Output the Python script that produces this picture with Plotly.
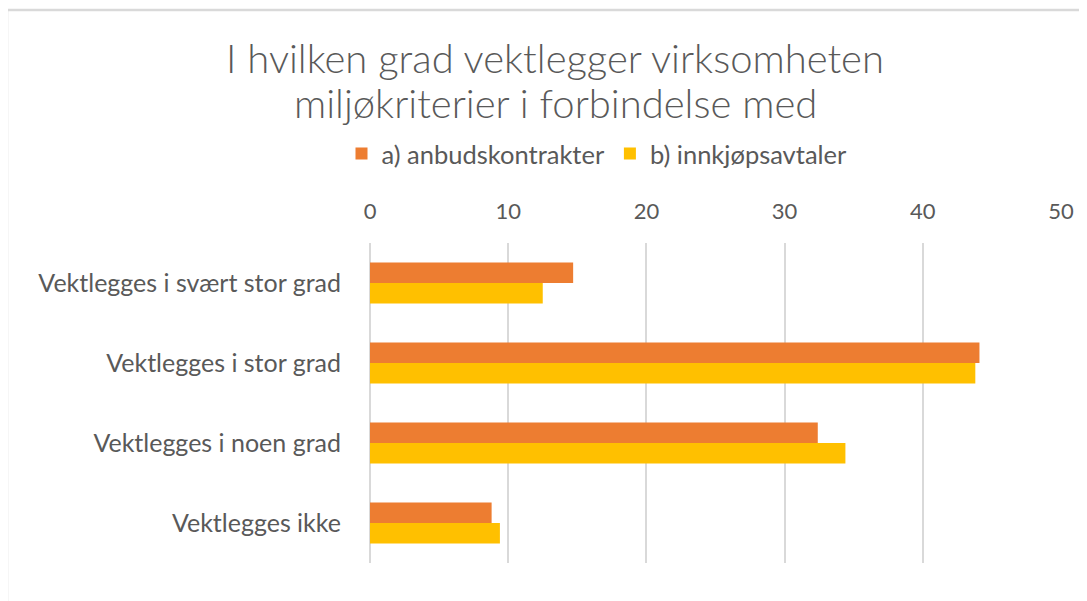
import plotly.graph_objects as go

categories = ["Vektlegges i svært stor grad", "Vektlegges i stor grad",
              "Vektlegges i noen grad", "Vektlegges ikke"]
series_a_name = "a) anbudskontrakter"
series_b_name = "b) innkjøpsavtaler"
series_a = [14.7, 44.1, 32.4, 8.8]
series_b = [12.5, 43.8, 34.4, 9.4]
x_ticks = [0, 10, 20, 30, 40, 50]
title_lines = ["I hvilken grad vektlegger virksomheten", "miljøkriterier i forbindelse med"]

W, H = 1087, 601
OFF = 8  # page body margin
# plot area in screen pixels: x 370..1061, y 243..563
ML = 370 - OFF
MR = W - (1061 - OFF)
MT = 243 - OFF
MB = H - (563 - OFF)
PW, PH = W - ML - MR, H - MT - MB

def px_x(sx):
    return (sx - OFF - ML) / PW

def px_y(sy):
    return (H - MB - (sy - OFF)) / PH

FONT = "Lato"
GRAY = "#595959"

fig = go.Figure()
fig.add_trace(go.Bar(y=categories, x=series_a, name=series_a_name, orientation="h",
                     marker=dict(color="#ED7D31", line=dict(width=0))))
fig.add_trace(go.Bar(y=categories, x=series_b, name=series_b_name, orientation="h",
                     marker=dict(color="#FFC000", line=dict(width=0))))

fig.update_layout(
    width=W, height=H,
    margin=dict(l=ML, r=MR, t=MT, b=MB),
    paper_bgcolor="white", plot_bgcolor="white",
    barmode="group", bargap=0.49, bargroupgap=0,
    font=dict(family=FONT, color=GRAY, size=22),
    showlegend=True,
    legend=dict(orientation="h", x=px_x(597), xanchor="center", y=px_y(154), yanchor="middle",
                font=dict(size=25.5, color=GRAY), itemwidth=30, traceorder="normal"),
    xaxis=dict(range=[0, 50], side="top", tickvals=x_ticks, showgrid=True,
               gridcolor="#D9D9D9", gridwidth=2, zeroline=True, zerolinecolor="#D9D9D9",
               zerolinewidth=2, showline=False, ticks="outside", ticklen=14,
               tickcolor="rgba(0,0,0,0)", tickfont=dict(size=22, color=GRAY), fixedrange=True),
    yaxis=dict(autorange="reversed", showgrid=False, showline=False, ticks="outside",
               ticklen=23, tickcolor="rgba(0,0,0,0)", tickfont=dict(size=25, color=GRAY)),
    shapes=[dict(type="rect", xref="paper", yref="paper",
                 x0=px_x(7), x1=px_x(1130), y0=px_y(10), y1=px_y(650),
                 line=dict(color="#D9D9D9", width=2.5), fillcolor="rgba(0,0,0,0)", layer="below")],
    annotations=[dict(text=title_lines[0], xref="paper", yref="paper", x=px_x(555), y=px_y(58),
                      xanchor="center", yanchor="middle", showarrow=False,
                      font=dict(size=40, color=GRAY, family=FONT, weight=300)),
                 dict(text=title_lines[1], xref="paper", yref="paper", x=px_x(555), y=px_y(103),
                      xanchor="center", yanchor="middle", showarrow=False,
                      font=dict(size=40, color=GRAY, family=FONT, weight=300))],
)

fig.write_html("out.html")
